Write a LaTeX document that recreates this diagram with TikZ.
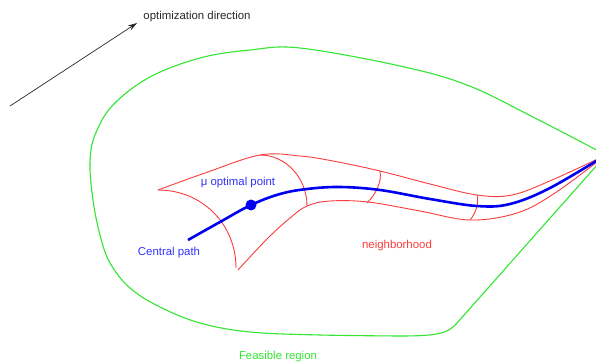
\documentclass[tikz,border=0pt]{standalone}
\usepackage{fontspec}
\setmainfont{Liberation Sans}
\usetikzlibrary{arrows.meta}
\definecolor{feasgreen}{RGB}{50,230,50}
\definecolor{nbred}{RGB}{250,60,60}
\definecolor{pathblue}{RGB}{0,0,240}
\definecolor{textblue}{RGB}{50,50,250}
\definecolor{dirgray}{RGB}{40,40,40}
\tikzset{
  lbl/.style={inner sep=0pt, font=\fontsize{11.4}{13}\selectfont},
  feas/.style={draw=feasgreen, line width=1.1pt},
  nb/.style={draw=nbred, line width=0.9pt},
  cpath/.style={draw=pathblue, line width=2.6pt},
  dirarrow/.style={draw=dirgray, line width=0.7pt, -{Stealth[length=9pt,width=5.5pt]}}
}
\begin{document}
\begin{tikzpicture}[x=1pt,y=-1pt]
\useasboundingbox (0,0) rectangle (596,363);
\clip (0,0) rectangle (596,363);
\fill[white] (0,0) rectangle (596,363);

% optimization direction
\coordinate (dirstart) at (10,106);
\coordinate (dirtip) at (137,23);
\draw[dirarrow] (dirstart) -- (dirtip);
\node[lbl, text=dirgray] (dirlabel) at (197,17) {optimization direction};

% feasible region
\draw[feas] plot[smooth, tension=0.6] coordinates {(606,155) (533,117) (467,85) (400,66) (300,48) (250,50) (200,58) (150,77) (113,105) (95,135) (90,163) (93,200) (100,235) (110,263) (130,288) (160,307) (200,323) (250,332) (320,335) (400,336)}
  .. controls (440,336) and (448,333) .. (457,323) -- (606,155);
\node[lbl, text=feasgreen] (feaslabel) at (278,357) {Feasible region};

% neighborhood
\draw[nb] plot[smooth, tension=0.6] coordinates {(158,190) (205,173) (260,155) (300,156) (333,161) (380,171) (430,184) (477,195) (512,195) (552,180) (606,155)};
\draw[nb] plot[smooth, tension=0.6] coordinates {(238,270) (267,239) (290,218) (307,206) (330,201) (368,202) (420,211) (470,220) (517,213) (555,193) (606,155)};
\draw[nb] (158,190) .. controls (202,190) and (236,224) .. (236,268);
\draw[nb] (260,155) .. controls (286,155) and (307,178) .. (307,206);
\draw[nb] (380,171) .. controls (382,182) and (376,194) .. (367,203);
\draw[nb] (477,195) .. controls (479,203) and (476,213) .. (470,220);
\node[lbl, text=nbred] (nblabel) at (397,246) {neighborhood};

% central path
\draw[cpath] plot[smooth, tension=0.6] coordinates {(188,240) (220,222) (251,205) (280,194) (307,189) (340,187) (380,190) (430,199) (477,206) (510,204) (550,188) (606,155)};
\fill[pathblue] (251,205) circle[radius=5.5];
\node[lbl, text=textblue] (mulabel) at (238,183) {μ optimal point};
\node[lbl, text=textblue] (cplabel) at (169,253) {Central path};
\end{tikzpicture}
\end{document}
